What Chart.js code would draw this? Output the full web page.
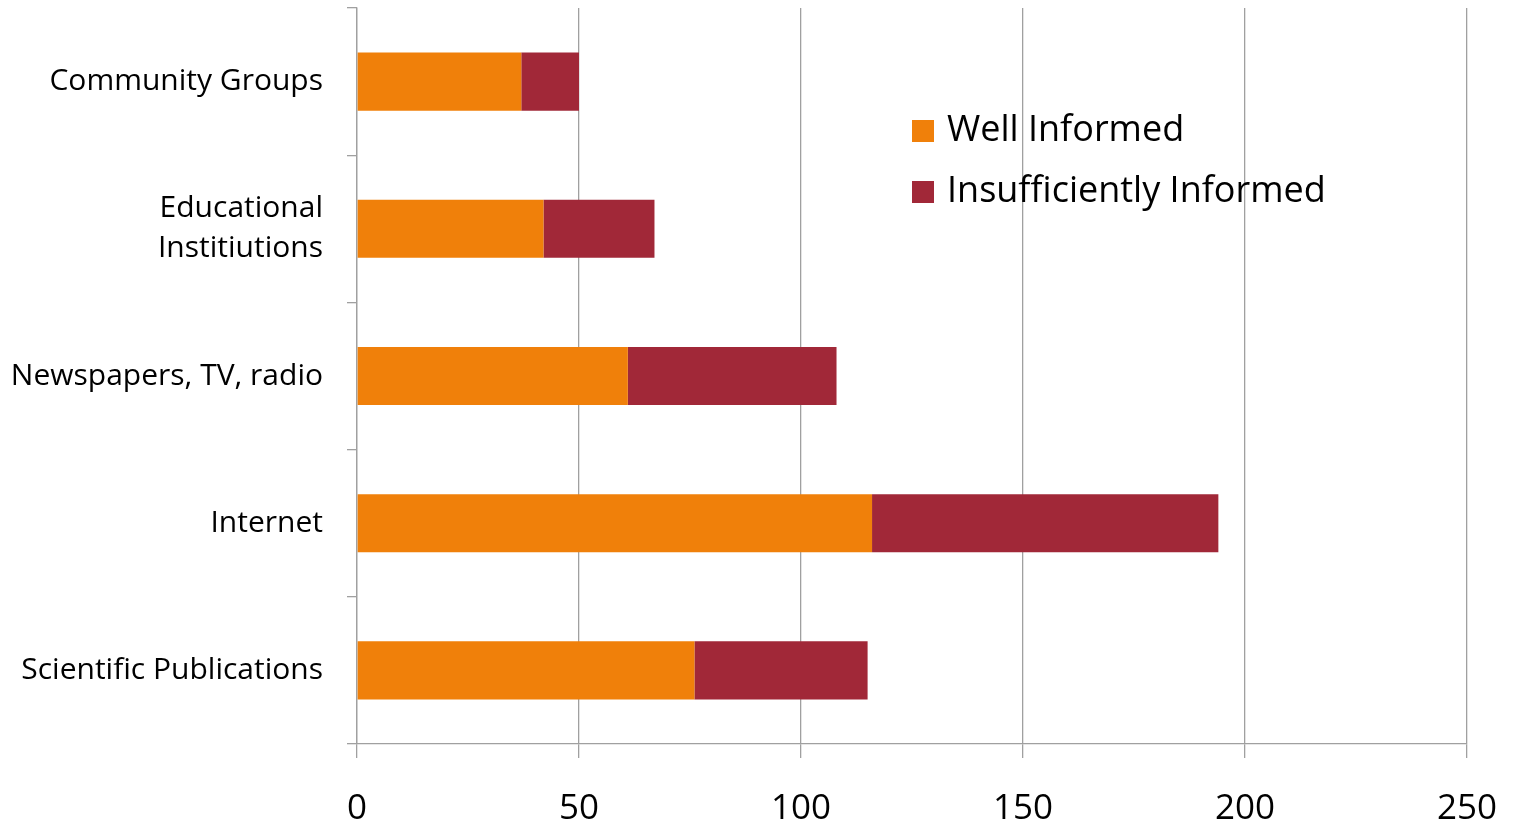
<!DOCTYPE html>
<html>
<head>
<meta charset="utf-8">
<script src="https://cdn.jsdelivr.net/npm/chart.js@4/dist/chart.umd.min.js"></script>
<style>
html,body{margin:0;padding:0;background:#fff;}
#wrap{width:1517px;height:825px;}
</style>
</head>
<body>
<div id="wrap"><canvas id="c" width="1517" height="825"></canvas></div>
<script>
const categories = ["Community Groups", ["Educational", "Institiutions"], "Newspapers, TV, radio", "Internet", "Scientific Publications"];
const wellInformed = [37, 42, 61, 116, 76];
const insufficientlyInformed = [13, 25, 47, 78, 39];
const xTicks = [0, 50, 100, 150, 200, 250];

const FONT = "'Open Sans', sans-serif";

const legendInside = {
  id: 'legendInside',
  afterDraw(chart) {
    const ctx = chart.ctx;
    const x0 = 912, y0 = 131, gap = 61, box = 22;
    ctx.save();
    chart.data.datasets.forEach((ds, i) => {
      const y = y0 + i * gap;
      ctx.fillStyle = ds.backgroundColor;
      ctx.fillRect(x0, y - box / 2, box, box);
      ctx.fillStyle = '#000';
      ctx.font = "36px " + FONT;
      ctx.textBaseline = 'middle';
      ctx.textAlign = 'left';
      ctx.fillText(ds.label, x0 + 35, y);
    });
    ctx.restore();
  }
};

new Chart(document.getElementById('c'), {
  type: 'bar',
  data: {
    labels: categories,
    datasets: [
      { label: 'Well Informed', data: wellInformed, backgroundColor: '#F0800A', barPercentage: 0.395, categoryPercentage: 1 },
      { label: 'Insufficiently Informed', data: insufficientlyInformed, backgroundColor: '#A12838', barPercentage: 0.395, categoryPercentage: 1 }
    ]
  },
  options: {
    indexAxis: 'y',
    responsive: false,
    animation: false,
    devicePixelRatio: 1,
    layout: { padding: { top: 8, right: 50, left: 0, bottom: 0 } },
    plugins: { legend: { display: false }, tooltip: { enabled: false } },
    scales: {
      x: {
        stacked: true,
        min: 0, max: 250,
        afterBuildTicks(scale) { scale.ticks = xTicks.map(v => ({ value: v })); },
        grid: { color: '#A0A0A0', lineWidth: 1.3, tickLength: 14, drawOnChartArea: true },
        border: { display: true, color: '#A0A0A0', width: 1.3 },
        ticks: { color: '#000', font: { family: FONT, size: 35 }, padding: 30, maxRotation: 0 },
        afterFit(scale) { scale.height = 81; scale.paddingLeft = 0; scale.paddingRight = 0; }
      },
      y: {
        stacked: true,
        grid: { offset: true, drawOnChartArea: false, color: '#A0A0A0', lineWidth: 1.3, tickLength: 10 },
        border: { display: true, color: '#A0A0A0', width: 1.3 },
        ticks: { color: '#000', font: { family: FONT, size: 30, lineHeight: 1.33 }, padding: 24 },
        afterFit(scale) { scale.width = 357; scale.paddingTop = 0; scale.paddingBottom = 0; }
      }
    }
  },
  plugins: [legendInside]
});
</script>
</body>
</html>
